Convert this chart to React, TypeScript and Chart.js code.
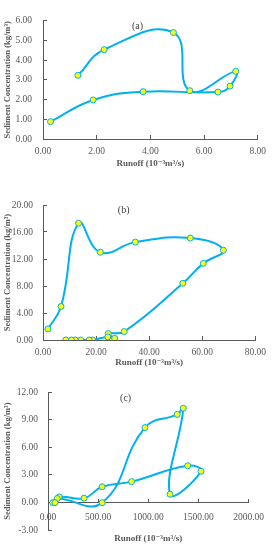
import React, { useEffect, useRef } from "react";
import { Chart, registerables } from "chart.js";

Chart.register(...registerables);

// ---------- data ----------
// Panel (a)
const runoffA = [0.28, 1.87, 3.73, 6.52, 6.97, 7.18, 5.47, 4.86, 2.28, 1.3];
const sedA = [0.88, 1.98, 2.4, 2.38, 2.68, 3.43, 2.45, 5.4, 4.53, 3.23];
const xTicksA = [0, 2, 4, 6, 8];
const yTicksA = [0, 1, 2, 3, 4, 5, 6];

// Panel (b)
const runoffB = [1.85, 6.8, 13.4, 21.6, 34.8, 55.5, 68.0, 60.4, 52.7, 30.6, 24.6, 27.0, 24.4, 18.7, 17.4, 14.2, 12.1, 10.7, 8.6];
const sedB = [1.63, 4.96, 17.3, 13.0, 14.5, 15.1, 13.3, 11.35, 8.4, 1.25, 0.95, 0.25, 0.45, 0, 0, 0, 0, 0, 0];
const xTicksB = [0, 20, 40, 60, 80];
const yTicksB = [0, 4, 8, 12, 16, 20];

// Panel (c)
const runoffC = [47, 111, 360, 540, 834, 1393, 1526, 1217, 1350, 1289, 967, 540, 92, 70];
const sedC = [0, 0.62, 0.48, 1.72, 2.28, 4.0, 3.4, 0.91, 10.24, 9.57, 8.14, 0, 0.45, 0];
const xTicksC = [0, 500, 1000, 1500, 2000];
const yTicksC = [-3, 0, 3, 6, 9, 12];

const xTitle = "Runoff (10⁻³m³/s)";
const yTitle = "Sediment Concentration (kg/m³)";

// ---------- styling ----------
const SERIF = "'Liberation Serif', 'DejaVu Serif', serif";
const GREY = "#595959";
const LINE = "#00B0F0";

type PanelCfg = {
  label: string;
  labelFx: number;
  labelDy: number;
  xs: number[];
  ys: number[];
  xTicks: number[];
  yTicks: number[];
  height: number;
  padTop: number;
  padRight: number;
  yWidth: number;
  xHeight: number;
  xTickPad: number;
  yTickPad: number;
  titlePadBottom: number;
  xAtZero?: boolean;
};

const step = (t: number[]) => t[1] - t[0];

function makeConfig(p: PanelCfg): any {
  const data = p.xs.map((x, i) => ({ x, y: p.ys[i] }));
  const tickFont = { family: SERIF, size: 9.5 };
  const titleFont = { family: SERIF, size: 9, weight: "bold" as const };
  const xScale: any = {
    type: "linear",
    min: p.xTicks[0],
    max: p.xTicks[p.xTicks.length - 1],
    ticks: {
      stepSize: step(p.xTicks),
      color: GREY,
      font: tickFont,
      padding: p.xTickPad,
      maxRotation: 0,
      callback: (v: number) => Number(v).toFixed(2),
    },
    grid: { display: true, drawOnChartArea: false, drawTicks: true, tickLength: -4, color: GREY },
    border: { display: true, color: GREY, width: 1 },
    title: {
      display: !p.xAtZero,
      text: xTitle,
      color: GREY,
      font: titleFont,
      padding: { top: 0, bottom: p.titlePadBottom },
    },
    afterFit: (s: any) => {
      s.height = p.xAtZero ? 0 : p.xHeight;
    },
  };
  if (p.xAtZero) xScale.position = { y: 0 };
  const scales: any = {
    x: xScale,
    y: {
      type: "linear",
      min: p.yTicks[0],
      max: p.yTicks[p.yTicks.length - 1],
      ticks: {
        stepSize: step(p.yTicks),
        color: GREY,
        font: tickFont,
        padding: p.yTickPad,
        callback: (v: number) => Number(v).toFixed(2),
      },
      grid: { display: true, drawOnChartArea: false, drawTicks: true, tickLength: -4, color: GREY },
      border: { display: true, color: GREY, width: 1 },
      title: {
        display: true,
        text: yTitle,
        color: GREY,
        font: { family: SERIF, size: 8.5, weight: "bold" },
        padding: { top: 3, bottom: 0 },
      },
      afterFit: (s: any) => {
        s.width = p.yWidth;
      },
    },
  };
  if (p.xAtZero) {
    scales.x2 = {
      type: "linear",
      position: "bottom",
      min: 0,
      max: 1,
      ticks: { display: false },
      grid: { display: false },
      border: { display: false },
      title: {
        display: true,
        text: xTitle,
        color: GREY,
        font: titleFont,
        padding: { top: 0, bottom: p.titlePadBottom },
      },
      afterFit: (s: any) => {
        s.height = p.xHeight;
      },
    };
  }
  const labelPlugin = {
    id: "panelLabel",
    afterDraw(chart: any) {
      const { ctx, chartArea } = chart;
      ctx.save();
      ctx.font = `10px ${SERIF}`;
      ctx.fillStyle = "#404040";
      ctx.textAlign = "center";
      ctx.textBaseline = "middle";
      ctx.fillText(
        p.label,
        chartArea.left + p.labelFx * (chartArea.right - chartArea.left),
        chartArea.top + p.labelDy
      );
      ctx.restore();
    },
  };
  return {
    type: "scatter",
    data: {
      datasets: [
        {
          data,
          showLine: true,
          tension: 0.45,
          borderColor: LINE,
          borderWidth: 2,
          pointRadius: 3,
          pointBackgroundColor: "#FFFF00",
          pointBorderColor: LINE,
          pointBorderWidth: 1,
        },
      ],
    },
    options: {
      responsive: false,
      animation: false,
      devicePixelRatio: 1,
      layout: { padding: { top: p.padTop, right: p.padRight, left: 0, bottom: 0 } },
      plugins: { legend: { display: false }, tooltip: { enabled: false } },
      scales,
    },
    plugins: [labelPlugin],
  };
}

const panels: { cfg: PanelCfg; top: number }[] = [
  {
    top: 0,
    cfg: {
      label: "(a)", labelFx: 0.44, labelDy: 6,
      xs: runoffA, ys: sedA, xTicks: xTicksA, yTicks: yTicksA,
      height: 172, padTop: 7, padRight: 18, yWidth: 43, xHeight: 33,
      xTickPad: 11, yTickPad: 15, titlePadBottom: 3,
    },
  },
  {
    top: 172,
    cfg: {
      label: "(b)", labelFx: 0.38, labelDy: 5,
      xs: runoffB, ys: sedB, xTicks: xTicksB, yTicks: yTicksB,
      height: 196, padTop: 33, padRight: 19, yWidth: 43, xHeight: 28,
      xTickPad: 11, yTickPad: 14, titlePadBottom: 0,
    },
  },
  {
    top: 368,
    cfg: {
      label: "(c)", labelFx: 0.387, labelDy: 6,
      xs: runoffC, ys: sedC, xTicks: xTicksC, yTicks: yTicksC,
      height: 182, padTop: 24, padRight: 18, yWidth: 48, xHeight: 15,
      xTickPad: 13, yTickPad: 14, titlePadBottom: 1.5, xAtZero: true,
    },
  },
];

function Panel({ cfg, top }: { cfg: PanelCfg; top: number }) {
  const ref = useRef<HTMLCanvasElement | null>(null);
  useEffect(() => {
    if (!ref.current) return;
    const chart = new Chart(ref.current, makeConfig(cfg));
    return () => chart.destroy();
  }, []);
  return (
    <canvas
      ref={ref}
      width={277}
      height={cfg.height}
      style={{ position: "absolute", left: 0, top, width: 277, height: cfg.height }}
    />
  );
}

export default function App() {
  return (
    <div
      style={{
        position: "fixed",
        left: 0,
        top: 0,
        width: 277,
        height: 550,
        background: "#ffffff",
        overflow: "hidden",
      }}
    >
      {panels.map((p, i) => (
        <Panel key={i} cfg={p.cfg} top={p.top} />
      ))}
    </div>
  );
}
